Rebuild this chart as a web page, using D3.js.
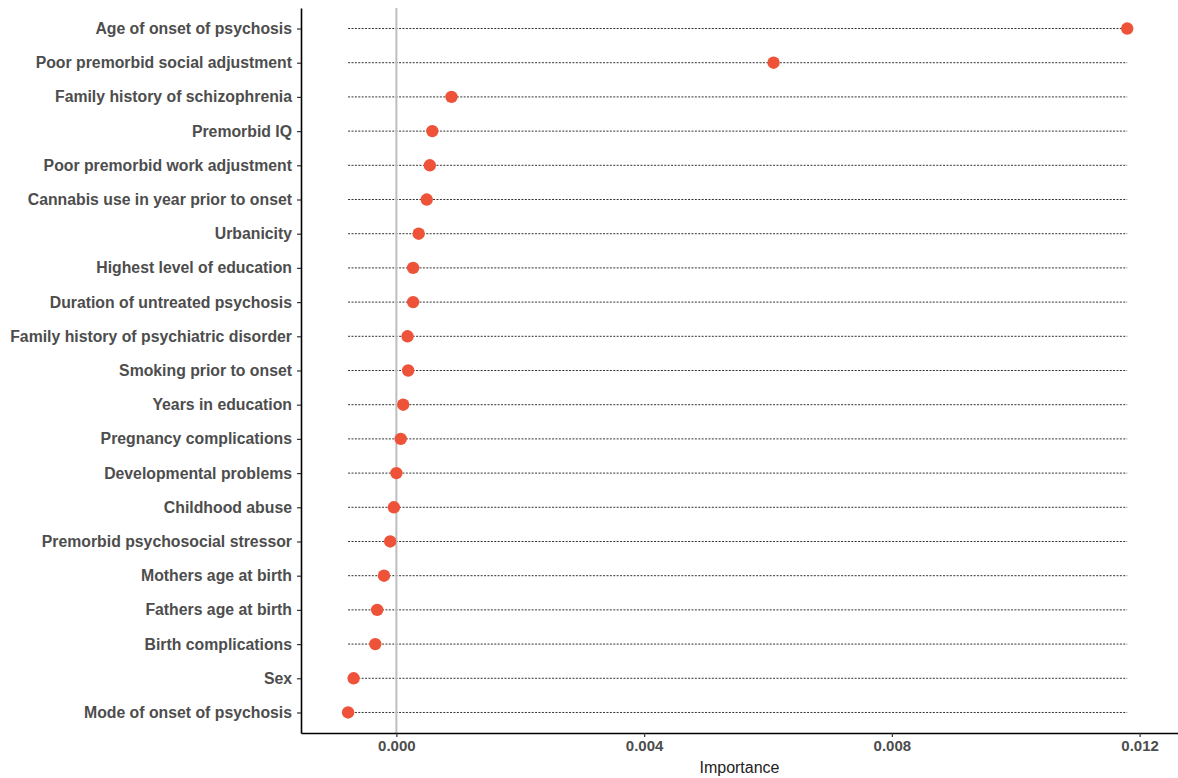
<!DOCTYPE html>
<html>
<head>
<meta charset="utf-8">
<script src="https://cdn.jsdelivr.net/npm/d3@7"></script>
<style>
  body { margin: 0; background: #fff; }
  text { font-family: "Liberation Sans", Arial, sans-serif; }
</style>
</head>
<body>
<script>
// variables, top to bottom as drawn
var features = [
    "Age of onset of psychosis",
    "Poor premorbid social adjustment",
    "Family history of schizophrenia",
    "Premorbid IQ",
    "Poor premorbid work adjustment",
    "Cannabis use in year prior to onset",
    "Urbanicity",
    "Highest level of education",
    "Duration of untreated psychosis",
    "Family history of psychiatric disorder",
    "Smoking prior to onset",
    "Years in education",
    "Pregnancy complications",
    "Developmental problems",
    "Childhood abuse",
    "Premorbid psychosocial stressor",
    "Mothers age at birth",
    "Fathers age at birth",
    "Birth complications",
    "Sex",
    "Mode of onset of psychosis"
];
var importance = [
    0.01180, 0.00609, 0.00089, 0.00058, 0.00054, 0.00049, 0.00036,
    0.00027, 0.00027, 0.00018, 0.00019, 0.00011, 0.00007, 0.00000,
    -0.00004, -0.00010, -0.00020, -0.00031, -0.00034, -0.00069, -0.00078
];
var xTicks = [0, 0.004, 0.008, 0.012];

var W = 1178, H = 778;
var mLeft = 301, mRight = 1178, mTop = 8, mBottom = 733;

var svg = d3.select("body").append("svg")
    .attr("width", W)
    .attr("height", H);

var x = d3.scaleLinear()
    .domain([-0.00154, 0.01262])
    .range([mLeft, mRight]);

var y = d3.scalePoint()
    .domain(features)
    .range([mTop, mBottom])
    .padding(0.6);

var lo = d3.min(importance), hi = d3.max(importance);

// dotted guide segments from min to max
svg.append("g").selectAll("line")
    .data(features)
    .enter().append("line")
    .attr("x1", x(lo))
    .attr("x2", x(hi))
    .attr("y1", function(d){ return y(d); })
    .attr("y2", function(d){ return y(d); })
    .attr("stroke", "#333")
    .attr("stroke-width", 1)
    .attr("stroke-dasharray", "2,1.4");

// zero reference
svg.append("line")
    .attr("x1", x(0)).attr("x2", x(0))
    .attr("y1", mTop).attr("y2", mBottom)
    .attr("stroke", "#bebebe")
    .attr("stroke-width", 2);

// points
svg.append("g").selectAll("circle")
    .data(features)
    .enter().append("circle")
    .attr("cx", function(d, i){ return x(importance[i]); })
    .attr("cy", function(d){ return y(d); })
    .attr("r", 6.2)
    .attr("fill", "#ee5339");

// axes
var xAxis = svg.append("g")
    .attr("transform", "translate(0," + mBottom + ")")
    .call(d3.axisBottom(x).tickValues(xTicks).tickFormat(d3.format(".3f")).tickSize(4).tickSizeOuter(0));
xAxis.attr("font-size", null);
xAxis.select(".domain").attr("stroke", "#000").attr("stroke-width", 1.6);
xAxis.selectAll(".tick line").attr("stroke", "#333").attr("stroke-width", 1.2);
xAxis.selectAll(".tick text")
    .attr("y", 7)
    .style("font-size", "15px")
    .style("font-weight", "bold")
    .attr("fill", "#4d4d4d");

var yAxis = svg.append("g")
    .attr("transform", "translate(" + mLeft + ",0)")
    .call(d3.axisLeft(y).tickSize(4).tickSizeOuter(0));
yAxis.attr("font-size", null);
yAxis.select(".domain").attr("stroke", "#000").attr("stroke-width", 1.6);
yAxis.selectAll(".tick line").attr("stroke", "#333").attr("stroke-width", 1.2);
yAxis.selectAll(".tick text")
    .attr("x", -9)
    .style("font-size", "15.8px")
    .style("font-weight", "bold")
    .attr("fill", "#4d4d4d");

svg.append("text")
    .attr("x", (mLeft + mRight) / 2)
    .attr("y", 773)
    .attr("text-anchor", "middle")
    .style("font-size", "16px")
    .attr("fill", "#222")
    .text("Importance");
</script>
</body>
</html>
